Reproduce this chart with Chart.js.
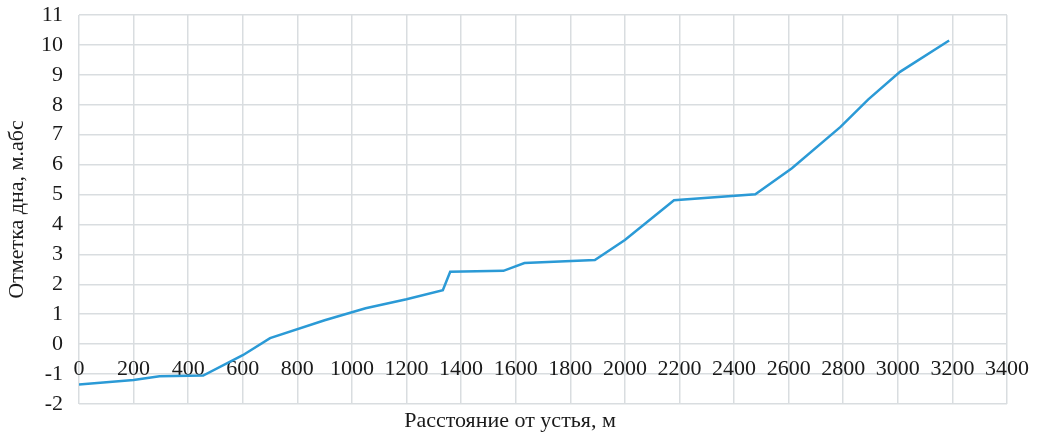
<!DOCTYPE html>
<html>
<head>
<meta charset="utf-8">
<script src="https://cdn.jsdelivr.net/npm/chart.js@4/dist/chart.umd.min.js"></script>
<style>
  html, body { margin: 0; padding: 0; background: #fff; }
  #wrap { width: 1039px; height: 438px; position: relative; }
</style>
</head>
<body>
<div id="wrap"><canvas id="profile"></canvas></div>
<script>
// ====================== ДАННЫЕ ======================
const distance = [0, 200, 295, 455, 600, 700, 900, 1050, 1200, 1333, 1360, 1555, 1632, 1890, 2000, 2180, 2478, 2612, 2790, 2892, 3008, 3188];
const bottomMark = [-1.35, -1.2, -1.07, -1.05, -0.37, 0.2, 0.8, 1.2, 1.5, 1.8, 2.42, 2.45, 2.71, 2.81, 3.48, 4.81, 5.01, 5.88, 7.26, 8.18, 9.1, 10.15];

const xTitle = "Расстояние от устья, м";
const yTitle = "Отметка дна, м.абс";

const gridColor = "#d9dde0";
const textColor = "#1a1a1a";
const fontFamily = "'Liberation Serif', 'DejaVu Serif', serif";

// подпись оси X рисуем отдельно (ось X стоит на нуле)
const xTitlePlugin = {
  id: "xTitle",
  afterDraw(chart) {
    const ctx = chart.ctx;
    ctx.save();
    ctx.font = "22px " + fontFamily;
    ctx.fillStyle = textColor;
    ctx.textAlign = "center";
    ctx.textBaseline = "middle";
    ctx.fillText(xTitle, 510, 421);
    ctx.restore();
  }
};

new Chart(document.getElementById("profile"), {
  type: "line",
  data: {
    datasets: [{
      data: distance.map((x, i) => ({ x: x, y: bottomMark[i] })),
      borderColor: "#2b9ad6",
      borderWidth: 2.5,
      pointRadius: 0,
      tension: 0,
      fill: false
    }]
  },
  options: {
    responsive: true,
    maintainAspectRatio: false,
    animation: false,
    layout: { padding: { top: 15, right: 32, bottom: 34, left: 0 } },
    plugins: { legend: { display: false }, tooltip: { enabled: false } },
    scales: {
      x: {
        type: "linear",
        position: { y: 0 },
        min: 0, max: 3400,
        afterFit: s => { s.paddingLeft = 0; s.paddingRight = 0; },
        grid: { color: gridColor, lineWidth: 1.5, drawTicks: false },
        border: { display: false },
        ticks: {
          stepSize: 200, padding: 12, maxRotation: 0, autoSkip: false,
          callback: v => String(v),
          color: textColor, font: { family: fontFamily, size: 22 }
        }
      },
      y: {
        min: -2, max: 11,
        afterFit: s => { s.width = 79; s.paddingTop = 0; s.paddingBottom = 0; },
        grid: { color: gridColor, lineWidth: 1.5, drawTicks: false },
        border: { display: false },
        ticks: {
          stepSize: 1, padding: 16,
          color: textColor, font: { family: fontFamily, size: 22 }
        },
        title: {
          display: true, text: yTitle, color: textColor,
          font: { family: fontFamily, size: 22 },
          padding: { top: 4, bottom: 0 }
        }
      }
    }
  },
  plugins: [xTitlePlugin]
});
</script>
</body>
</html>
